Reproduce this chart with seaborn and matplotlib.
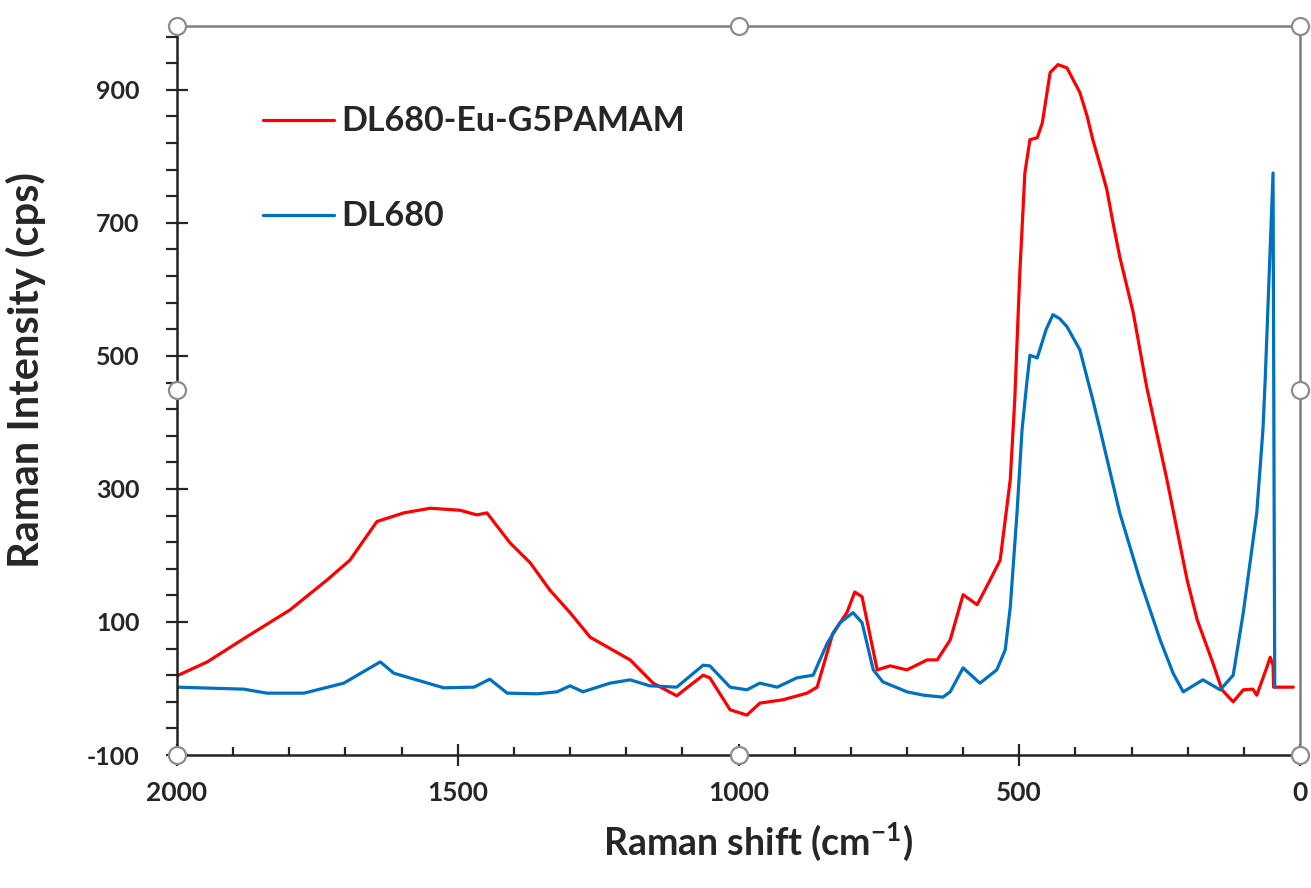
import numpy as np
import pandas as pd
import matplotlib
matplotlib.use("Agg")
import matplotlib.pyplot as plt
import seaborn as sns

# spectra (x in cm-1, decreasing)
red_x = [2000, 1946, 1881, 1799, 1733, 1692, 1644, 1596, 1549, 1496, 1466, 1448,
         1407, 1371, 1336, 1300, 1264, 1193, 1152, 1110, 1063, 1051, 1015, 985,
         962, 921, 878, 860, 832, 807, 793, 780, 753, 730, 700, 664, 646, 623,
         600, 575, 552, 534, 516, 508, 499, 490, 481, 468, 459, 445, 431, 415,
         392, 379, 369, 356, 344, 333, 321, 309, 297, 285, 273, 237, 201, 183,
         155, 139, 119, 101, 84, 77, 59, 53, 48, 47, 12]
red_y = [19, 40, 75, 118, 163, 193, 251, 264, 271, 268, 261, 264,
         219, 189, 148, 114, 77, 43, 8, -11, 20, 16, -32, -40,
         -22, -17, -7, 2, 83, 114, 145, 138, 28, 34, 28, 43, 43, 73,
         141, 126, 163, 193, 314, 434, 625, 775, 825, 828, 850, 926, 938, 933,
         896, 860, 825, 787, 750, 700, 649, 607, 565, 509, 453, 314, 163, 103,
         38, -2, -20, -2, -1, -10, 32, 47, 35, 2, 2]

blue_x = [2000, 1881, 1840, 1774, 1703, 1638, 1614, 1525, 1471, 1443, 1412,
          1359, 1323, 1300, 1277, 1229, 1193, 1158, 1110, 1063, 1051, 1015,
          985, 962, 931, 896, 867, 842, 819, 796, 780, 760, 743, 700, 671, 636,
          623, 600, 570, 540, 525, 516, 504, 495, 486, 481, 468, 452, 440, 428,
          415, 392, 369, 356, 321, 285, 249, 226, 208, 173, 142, 119, 101, 77,
          66, 62, 48, 45]
blue_y = [2, -1, -7, -7, 8, 40, 23, 1, 2, 14, -7,
          -8, -5, 4, -5, 8, 13, 4, 2, 35, 34, 2,
          -2, 8, 2, 16, 20, 68, 99, 114, 99, 28, 10, -5, -10, -13,
          -5, 31, 8, 28, 58, 122, 264, 389, 464, 501, 497, 540, 562, 556,
          544, 509, 434, 389, 264, 163, 73, 23, -5, 13, -2, 20, 114, 264,
          389, 464, 775, 2]

red_label = "DL680-Eu-G5PAMAM"
blue_label = "DL680"
red_color = "#FF0000"
blue_color = "#0070C0"

y_ticks = [-100, 100, 300, 500, 700, 900]
x_ticks = [2000, 1500, 1000, 500, 0]

sns.set_style("ticks")
plt.rcParams["font.family"] = ["Lato", "DejaVu Sans"]
plt.rcParams["font.weight"] = "bold"
plt.rcParams["axes.unicode_minus"] = False
plt.rcParams["mathtext.fontset"] = "custom"
plt.rcParams["mathtext.rm"] = "Lato:bold"
plt.rcParams["mathtext.it"] = "Lato:bold"
plt.rcParams["mathtext.bf"] = "Lato:bold"

df_red = pd.DataFrame({"shift": red_x, "intensity": red_y})
df_blue = pd.DataFrame({"shift": blue_x, "intensity": blue_y})

fig = plt.figure(figsize=(13.11, 8.88), dpi=100)
ax = fig.add_axes([177 / 1311, 1 - 755 / 888, 1123 / 1311, 729 / 888])

sns.lineplot(data=df_red, x="shift", y="intensity", sort=False, estimator=None,
             color=red_color, linewidth=2.3, label=red_label, ax=ax)
sns.lineplot(data=df_blue, x="shift", y="intensity", sort=False, estimator=None,
             color=blue_color, linewidth=2.3, label=blue_label, ax=ax)

ax.set_xlim(2000, 0)
ax.set_ylim(-100, 996)
ax.set_xticks(x_ticks)
ax.set_yticks(y_ticks)
ax.set_xticks(np.arange(0, 2001, 100), minor=True)
ax.set_yticks(np.arange(-100, 1000, 40), minor=True)

ax.tick_params(axis="y", which="major", direction="inout", length=16, width=1.6,
               labelsize=18, pad=19)
ax.tick_params(axis="y", which="minor", direction="out", length=8, width=1.6)
ax.tick_params(axis="x", which="major", direction="inout", length=16, width=1.6,
               labelsize=19, pad=11)
ax.tick_params(axis="x", which="minor", direction="in", length=6, width=1.6)
for lbl in ax.get_xticklabels() + ax.get_yticklabels():
    lbl.set_fontweight("bold")

for side in ["left", "bottom"]:
    ax.spines[side].set_color("#222222")
    ax.spines[side].set_linewidth(1.8)
for side in ["top", "right"]:
    ax.spines[side].set_visible(True)
    ax.spines[side].set_color("#7f7f7f")
    ax.spines[side].set_linewidth(1.8)

# selection handles on the frame
hx = [0, 0.5, 1, 0, 1, 0, 0.5, 1]
hy = [1, 1, 1, 0.5, 0.5, 0, 0, 0]
ax.scatter(hx, hy, s=150, facecolor="white", edgecolor="#8c8c8c", linewidth=1.6,
           transform=ax.transAxes, clip_on=False, zorder=10)

ax.set_xlabel("Raman shift (cm$^{-1}$)", fontsize=27, fontweight="bold")
ax.set_ylabel("Raman Intensity (cps)", fontsize=30, fontweight="bold")
ax.xaxis.set_label_coords(0.517, -0.09)
ax.yaxis.set_label_coords(-0.117, 0.528)

leg = ax.legend(loc="upper left", bbox_to_anchor=(0.0766, 0.891), frameon=False,
                fontsize=24.5, handlelength=2.1, handletextpad=0.2,
                labelspacing=1.85, borderpad=0, borderaxespad=0)
for t in leg.get_texts():
    t.set_fontweight("bold")

fig.savefig("out.png", dpi=100)
